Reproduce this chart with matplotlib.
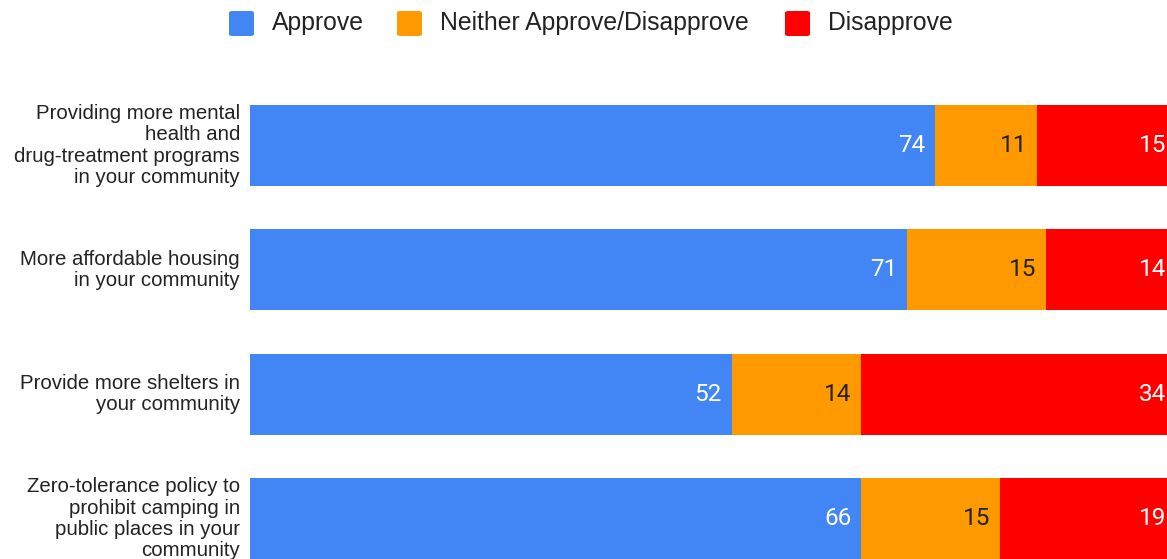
import matplotlib.pyplot as plt
from matplotlib.patches import FancyBboxPatch
import numpy as np

# Survey results, percent of respondents
categories = [
    "Providing more mental\nhealth and\ndrug-treatment programs\nin your community",
    "More affordable housing\nin your community",
    "Provide more shelters in\nyour community",
    "Zero-tolerance policy to\nprohibit camping in\npublic places in your\ncommunity",
]
approve = [74, 71, 52, 66]
neither = [11, 15, 14, 15]
disapprove = [15, 14, 34, 19]

series_names = ["Approve", "Neither Approve/Disapprove", "Disapprove"]
colors = ["#4285F4", "#FF9900", "#FF0000"]
text_colors = ["white", "#222222", "white"]

W, H = 1167, 559
fig = plt.figure(figsize=(W / 100, H / 100), dpi=100)

# plot area: x from 250px to 1176px (runs past the right edge), rows ~124px apart
left, right = 250, 1176
top_center, step = 145.5, 124.4
n = len(categories)
y_top = H - (top_center - step / 2)
y_bot = y_top - n * step
ax = fig.add_axes([left / W, y_bot / H, (right - left) / W, n * step / H])
ax.set_xlim(0, 100)
ax.set_ylim(n - 0.5, -0.5)
ax.axis("off")

y = np.arange(n)
data = [approve, neither, disapprove]
starts = np.zeros(n)
for vals, col, tcol in zip(data, colors, text_colors):
    vals = np.array(vals, dtype=float)
    ax.barh(y, vals, left=starts, height=81 / step, color=col, edgecolor="none")
    for yi, s, v in zip(y, starts, vals):
        ax.annotate(f"{int(v)}", xy=(s + v, yi), xytext=(-10, 0),
                    textcoords="offset pixels", ha="right", va="center",
                    fontsize=17.5, family="Roboto", color=tcol)
    starts += vals

for yi, lab in zip(y, categories):
    ax.annotate(lab, xy=(0, yi), xytext=(-10, 0), textcoords="offset pixels",
                ha="right", va="center", fontsize=14.7, family="Liberation Sans",
                color="#222222", linespacing=1.15, annotation_clip=False)

# legend across the top
sq = 25
lx = [229, 397, 785]
for x0, name, col in zip(lx, series_names, colors):
    fig.patches.append(FancyBboxPatch((x0 / W, (H - 36) / H), sq / W, sq / H,
                                      boxstyle="round,pad=0,rounding_size=0.003",
                                      transform=fig.transFigure, facecolor=col,
                                      edgecolor="none"))
    fig.text((x0 + sq + 18) / W, (H - 23) / H, name, ha="left", va="center",
             fontsize=17.8, family="Liberation Sans", color="#222222")

fig.savefig("out.png", dpi=100)
